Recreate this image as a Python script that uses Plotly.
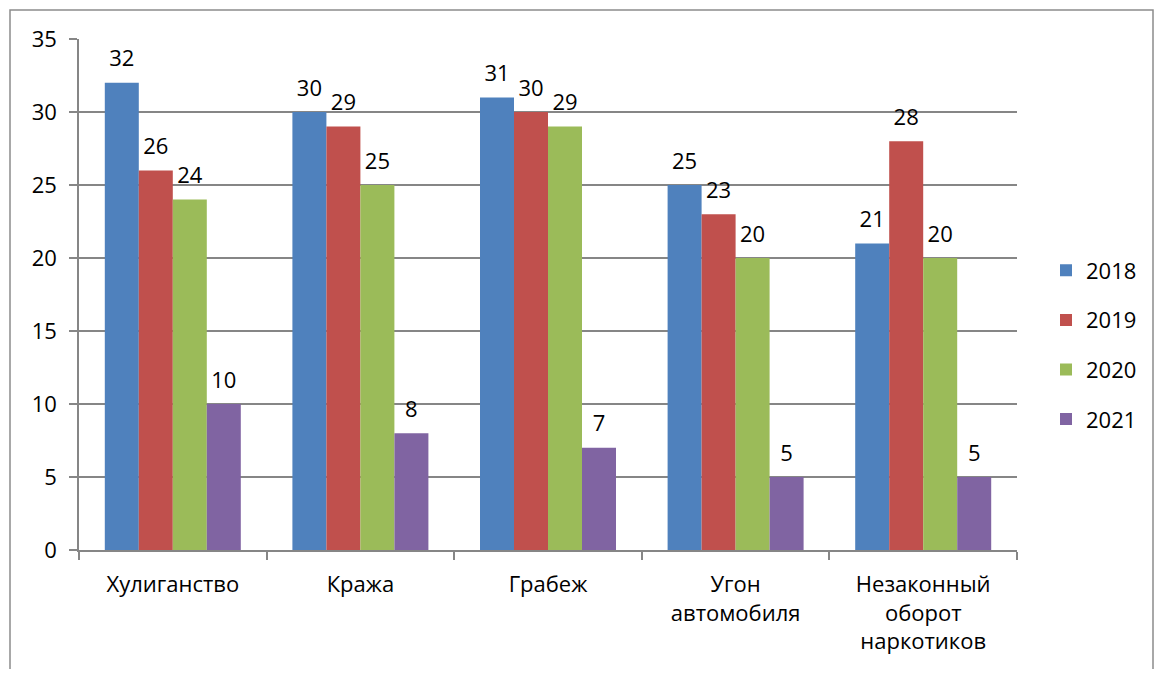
import plotly.graph_objects as go

categories = ["Хулиганство", "Кража", "Грабеж", "Угон<br>автомобиля", "Незаконный<br>оборот<br>наркотиков"]
years = ["2018", "2019", "2020", "2021"]
v2018 = [32, 30, 31, 25, 21]
v2019 = [26, 29, 30, 23, 28]
v2020 = [24, 25, 29, 20, 20]
v2021 = [10, 8, 7, 5, 5]
series = [v2018, v2019, v2020, v2021]
colors = ["#4F81BD", "#C0504D", "#9BBB59", "#8064A2"]

FONT = "Open Sans"
FS = 22
OFF = 8  # browser body margin
W, H = 1162 - 2 * OFF, 677 - 2 * OFF
L, R, T, B = 79 - OFF, 1017 - OFF, 39 - OFF, 550 - OFF
pw, ph = R - L, B - T

def px_x(x):
    return (x - OFF - L) / pw

def px_y(y):
    return (B - (y - OFF)) / ph

fig = go.Figure()
for name, vals, col in zip(years, series, colors):
    fig.add_trace(go.Bar(
        x=categories, y=vals, name=name, marker_color=col, marker_line_width=0,
        offsetgroup=name, legendgroup=name, hoverinfo="skip",
    ))
for name, vals in zip(years, series):
    fig.add_trace(go.Scatter(
        x=categories, y=vals, mode="markers+text", text=[str(v) for v in vals],
        textposition="top center", marker=dict(size=16, opacity=0),
        textfont=dict(family=FONT, size=FS, color="black"), offsetgroup=name,
        showlegend=False, hoverinfo="skip", cliponaxis=False,
    ))

bx0, bx1 = px_x(10), px_x(W + OFF - 1)
by_top, by_bot = px_y(10), px_y(720)
border_path = f"M {bx0},{by_bot} L {bx0},{by_top} L {bx1},{by_top} L {bx1},{by_bot}"

fig.update_layout(
    width=W, height=H,
    margin=dict(l=L, r=W - R, t=T, b=H - B, autoexpand=False),
    paper_bgcolor="white", plot_bgcolor="white",
    barmode="group", bargap=0.275, bargroupgap=0,
    scattermode="group", scattergap=0.275,
    font=dict(family=FONT, size=FS, color="black"),
    showlegend=True,
    legend=dict(x=px_x(1046), xanchor="left", y=px_y(345), yanchor="middle",
                font=dict(family=FONT, size=FS), tracegroupgap=18,
                bgcolor="rgba(0,0,0,0)"),
    shapes=[dict(type="path", xref="paper", yref="paper", path=border_path,
                 line=dict(color="#8c8c8c", width=1.5), fillcolor="rgba(0,0,0,0)", layer="below")],
)
fig.update_yaxes(range=[0, 35], dtick=5, showgrid=True, gridcolor="#868686", gridwidth=1.5,
                 showline=True, linecolor="#868686", linewidth=1.5,
                 ticks="outside", ticklen=8, tickcolor="#868686", tickwidth=1.5,
                 tickfont=dict(family=FONT, size=FS), zeroline=False, ticklabelstandoff=8)
fig.update_xaxes(showline=True, linecolor="#868686", linewidth=1.5, mirror=False,
                 ticks="outside", tickson="boundaries", ticklen=8, tickcolor="#868686", tickwidth=1.5,
                 tickfont=dict(family=FONT, size=FS), showgrid=False, ticklabelstandoff=14)

fig.write_html("out.html")
